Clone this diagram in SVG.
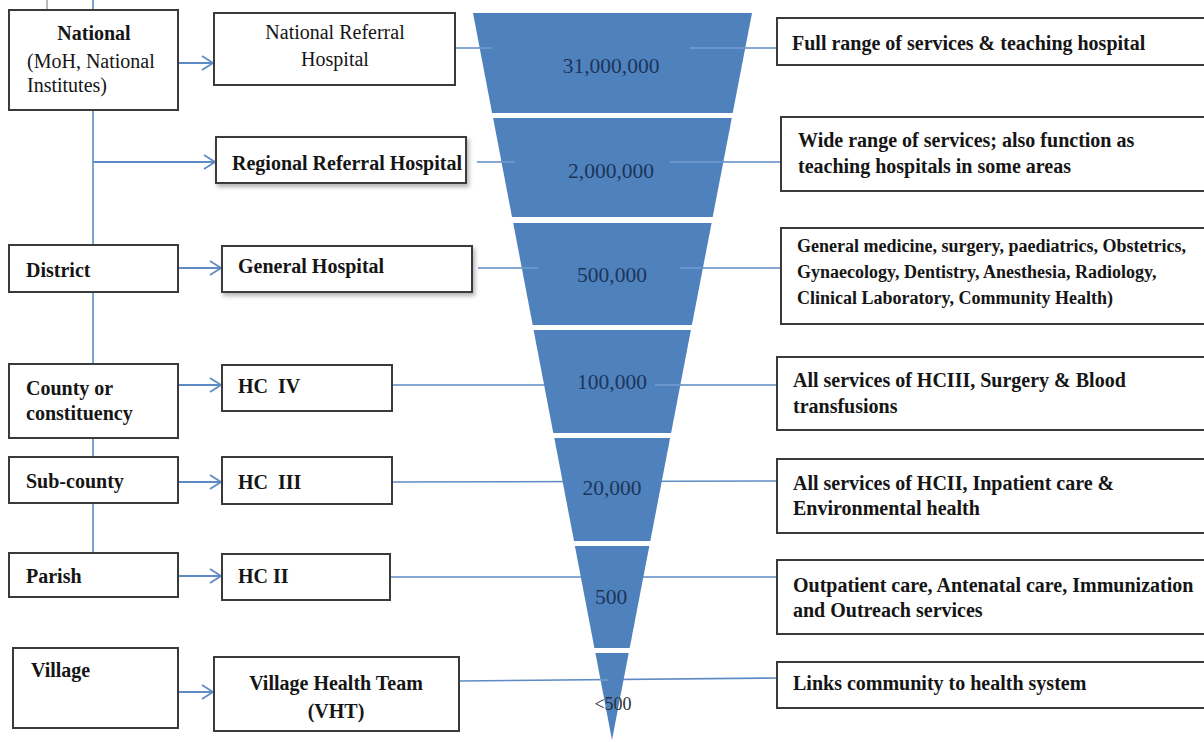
<svg xmlns="http://www.w3.org/2000/svg" width="1204" height="742" viewBox="0 0 1204 742">
  <style>
    .box { fill: #ffffff; stroke: #3a3a3a; stroke-width: 2; }
    .t { font-family: "Liberation Serif", "Times New Roman", serif; font-size: 20px; fill: #151515; }
    .b { font-weight: bold; }
    .c { text-anchor: middle; }
    .sm { font-size: 18px; }
    .num { font-family: "Liberation Serif", "Times New Roman", serif; font-size: 21.5px; fill: #1c355a; text-anchor: middle; }
    .link { stroke: #5f8bc4; stroke-width: 1.6; fill: none; }
    .arrow { stroke: #5f8bc4; stroke-width: 1.8; fill: none; marker-end: url(#chev); }
    .seg { fill: #4f81bd; }
    .glint { stroke: #8fb0dc; stroke-width: 1.4; opacity: 0.6; }
  </style>
  <defs>
    <marker id="chev" viewBox="0 0 14 16" refX="12" refY="8" markerWidth="14" markerHeight="16" markerUnits="userSpaceOnUse" orient="auto">
      <path d="M1,1 L12,8 L1,15" fill="none" stroke="#5f8bc4" stroke-width="1.8"/>
    </marker>
    <filter id="shadow" x="-10%" y="-20%" width="125%" height="160%">
      <feDropShadow dx="2" dy="3" stdDeviation="2" flood-color="#000" flood-opacity="0.3"/>
    </filter>
  </defs>

  <rect width="1204" height="742" fill="#ffffff"/>

  <!-- connectors -->
  <g id="connectors">
    <line x1="47" y1="0" x2="47" y2="9" stroke="#777" stroke-width="1"/>
    <line class="link" x1="93" y1="0" x2="93" y2="553"/>
    <!-- horizontal level lines passing behind the funnel -->
    <line class="link" x1="455" y1="48" x2="777" y2="48"/>
    <line class="link" x1="477" y1="162" x2="781" y2="162"/>
    <line class="link" x1="478" y1="268" x2="781" y2="268"/>
    <line class="link" x1="392" y1="385" x2="777" y2="385"/>
    <line class="link" x1="392" y1="482" x2="777" y2="481"/>
    <line class="link" x1="390" y1="577" x2="777" y2="577"/>
    <line class="link" x1="459" y1="681" x2="777" y2="678"/>
    <!-- arrows from administrative level to facility -->
    <line class="arrow" x1="178" y1="63" x2="213" y2="63"/>
    <line class="arrow" x1="93" y1="162" x2="215" y2="162"/>
    <line class="arrow" x1="178" y1="268" x2="221" y2="268"/>
    <line class="arrow" x1="178" y1="385" x2="221" y2="385"/>
    <line class="arrow" x1="178" y1="482" x2="221" y2="482"/>
    <line class="arrow" x1="178" y1="576" x2="221" y2="576"/>
    <line class="arrow" x1="178" y1="692" x2="213" y2="692"/>
  </g>

  <!-- population funnel -->
  <g id="funnel">
    <polygon class="seg" points="473,13 752,13 732.7,113 492.1,113"/>
    <polygon class="seg" points="493.1,118 731.8,118 712.7,217 512,217"/>
    <polygon class="seg" points="513.2,223 711.6,223 691.9,325 532.7,325"/>
    <polygon class="seg" points="533.6,330 690.9,330 671.1,433 553.3,433"/>
    <polygon class="seg" points="554.3,438 670.1,438 650.3,541 574,541"/>
    <polygon class="seg" points="574.9,546 649.3,546 629.7,648 594.4,648"/>
    <polygon class="seg" points="595.4,653 628.7,653 612,740"/>
    <!-- faint line continuations over the funnel edges -->
    <line class="glint" x1="480" y1="48" x2="492" y2="48"/>
    <line class="glint" x1="690" y1="48" x2="745" y2="48"/>
    <line class="glint" x1="502" y1="162" x2="515" y2="162"/>
    <line class="glint" x1="670" y1="162" x2="723" y2="162"/>
    <line class="glint" x1="522" y1="268" x2="538" y2="268"/>
    <line class="glint" x1="680" y1="268" x2="702" y2="268"/>
    <line class="glint" x1="655" y1="385" x2="680" y2="385"/>
    <line class="glint" x1="600" y1="680" x2="608" y2="680"/>
    <text class="num" x="611" y="73">31,000,000</text>
    <text class="num" x="611" y="178">2,000,000</text>
    <text class="num" x="612" y="282">500,000</text>
    <text class="num" x="612" y="389">100,000</text>
    <text class="num" x="612" y="495">20,000</text>
    <text class="num" x="611" y="604">500</text>
    <text class="num" x="613" y="710" style="font-size:18px;fill:#2a2f3a">&lt;500</text>
  </g>

  <!-- administrative levels -->
  <g id="national">
    <rect class="box" x="9" y="10" width="169" height="100"/>
    <text class="t b c" x="94" y="40">National</text>
    <text class="t" x="27" y="68">(MoH, National</text>
    <text class="t" x="27" y="92">Institutes)</text>
  </g>
  <g id="district">
    <rect class="box" x="9" y="245" width="169" height="47"/>
    <text class="t b" x="26" y="277">District</text>
  </g>
  <g id="county">
    <rect class="box" x="9" y="364" width="169" height="74"/>
    <text class="t b" x="26" y="395">County or</text>
    <text class="t b" x="26" y="420">constituency</text>
  </g>
  <g id="subcounty">
    <rect class="box" x="9" y="457" width="169" height="46"/>
    <text class="t b" x="26" y="488">Sub-county</text>
  </g>
  <g id="parish">
    <rect class="box" x="9" y="553" width="169" height="44"/>
    <text class="t b" x="26" y="583">Parish</text>
  </g>
  <g id="village">
    <rect class="box" x="13" y="648" width="165" height="80"/>
    <text class="t b" x="31" y="677">Village</text>
  </g>

  <!-- facilities -->
  <g id="national-referral">
    <rect class="box" x="214" y="13" width="241" height="72"/>
    <text class="t c" x="335" y="39">National Referral</text>
    <text class="t c" x="335" y="66">Hospital</text>
  </g>
  <g id="regional-referral">
    <rect class="box" x="216" y="137" width="250" height="46" filter="url(#shadow)"/>
    <text class="t b" x="232" y="170">Regional Referral Hospital</text>
  </g>
  <g id="general-hospital">
    <rect class="box" x="222" y="246" width="250" height="46" filter="url(#shadow)"/>
    <text class="t b" x="238" y="273">General Hospital</text>
  </g>
  <g id="hc4">
    <rect class="box" x="222" y="365" width="170" height="46"/>
    <text class="t b" x="238" y="393" xml:space="preserve">HC  IV</text>
  </g>
  <g id="hc3">
    <rect class="box" x="222" y="457" width="170" height="47"/>
    <text class="t b" x="238" y="489" xml:space="preserve">HC  III</text>
  </g>
  <g id="hc2">
    <rect class="box" x="222" y="554" width="168" height="46"/>
    <text class="t b" x="238" y="583">HC II</text>
  </g>
  <g id="vht">
    <rect class="box" x="214" y="657" width="245" height="74"/>
    <text class="t b c" x="336" y="690">Village Health Team</text>
    <text class="t b c" x="336" y="718">(VHT)</text>
  </g>

  <!-- services offered -->
  <g id="services-national">
    <rect class="box" x="777" y="18" width="440" height="47"/>
    <text class="t b" x="792" y="50">Full range of services &amp; teaching hospital</text>
  </g>
  <g id="services-regional">
    <rect class="box" x="781" y="117" width="440" height="74"/>
    <text class="t b" x="798" y="147">Wide range of services; also function as</text>
    <text class="t b" x="798" y="173">teaching hospitals in some areas</text>
  </g>
  <g id="services-general">
    <rect class="box" x="781" y="228" width="440" height="96"/>
    <text class="t b sm" x="797" y="252">General medicine, surgery, paediatrics, Obstetrics,</text>
    <text class="t b sm" x="797" y="278">Gynaecology, Dentistry, Anesthesia, Radiology,</text>
    <text class="t b sm" x="797" y="304">Clinical Laboratory, Community Health)</text>
  </g>
  <g id="services-hc4">
    <rect class="box" x="777" y="357" width="440" height="73"/>
    <text class="t b" x="793" y="387">All services of HCIII, Surgery &amp; Blood</text>
    <text class="t b" x="793" y="413">transfusions</text>
  </g>
  <g id="services-hc3">
    <rect class="box" x="777" y="459" width="440" height="74"/>
    <text class="t b" x="793" y="490">All services of HCII, Inpatient care &amp;</text>
    <text class="t b" x="793" y="515">Environmental health</text>
  </g>
  <g id="services-hc2">
    <rect class="box" x="777" y="560" width="440" height="74"/>
    <text class="t b" x="793" y="592">Outpatient care, Antenatal care, Immunization</text>
    <text class="t b" x="793" y="617">and Outreach services</text>
  </g>
  <g id="services-vht">
    <rect class="box" x="777" y="662" width="440" height="46"/>
    <text class="t b" x="793" y="690">Links community to health system</text>
  </g>
</svg>
